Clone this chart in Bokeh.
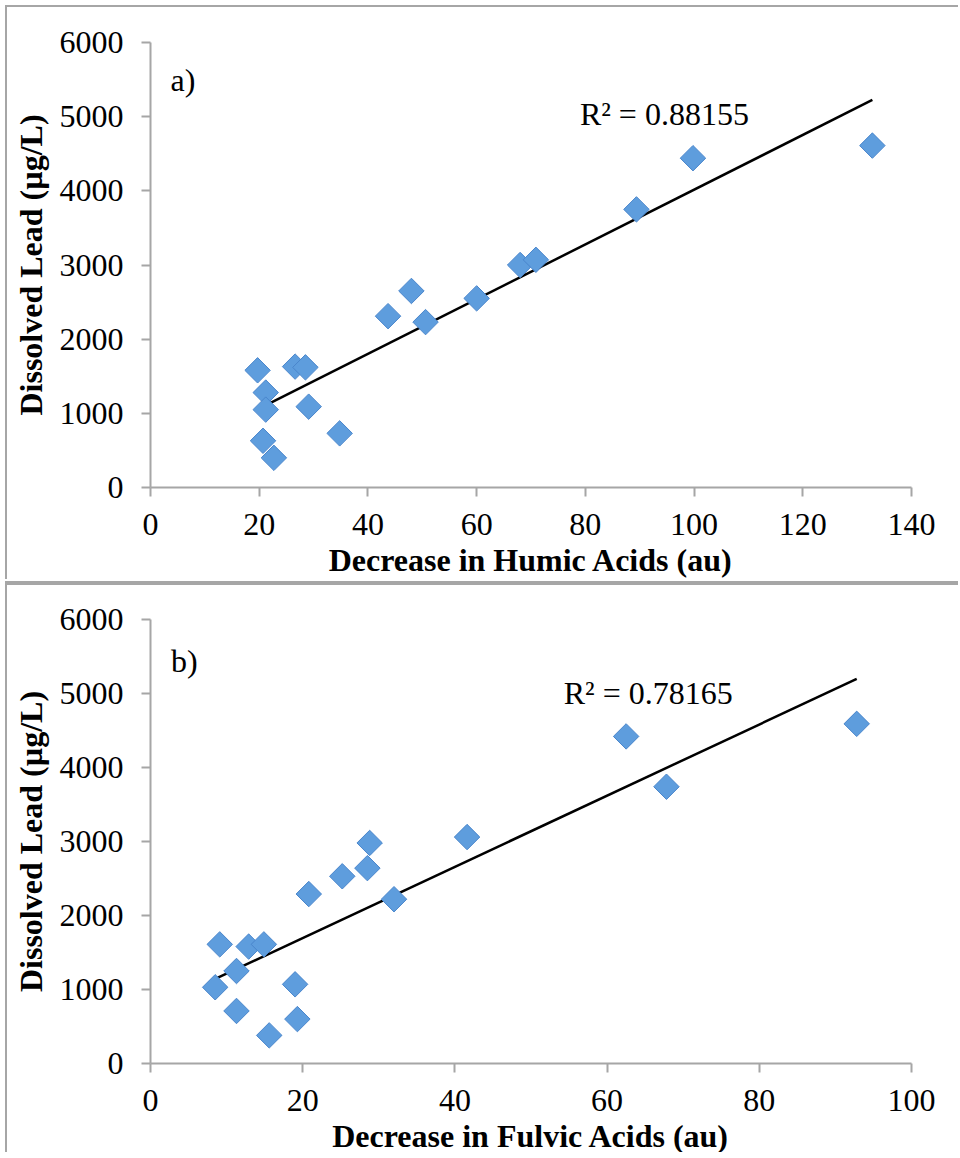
import numpy as np
from bokeh.plotting import figure
from bokeh.layouts import column
from bokeh.models import Label, FixedTicker, Range1d
from bokeh.embed import file_html
from bokeh.resources import INLINE

# ---- data ----
humic_x = [19.7, 21.2, 21.2, 20.7, 22.7, 26.6, 28.5, 29.1, 34.8, 43.7, 48.0, 50.6, 60.0, 68.0, 70.9, 89.4, 99.8, 132.8]
humic_lead = [1580, 1280, 1050, 630, 400, 1630, 1620, 1090, 730, 2310, 2650, 2230, 2550, 3000, 3070, 3750, 4440, 4610]

fulvic_x = [8.5, 9.1, 11.3, 11.3, 12.9, 14.9, 15.6, 19.0, 19.3, 20.8, 25.2, 28.5, 28.8, 32.0, 41.6, 62.5, 67.8, 92.8]
fulvic_lead = [1030, 1610, 1250, 710, 1580, 1610, 380, 1070, 600, 2290, 2530, 2640, 2980, 2220, 3060, 4420, 3740, 4590]

lead_ticks = [0, 1000, 2000, 3000, 4000, 5000, 6000]
humic_ticks = [0, 20, 40, 60, 80, 100, 120, 140]
fulvic_ticks = [0, 20, 40, 60, 80, 100]

humic_r2 = "R² = 0.88155"
fulvic_r2 = "R² = 0.78165"

FONT = "Liberation Serif"
GRAY = "#a6a6a6"
FS = "32px"


def panel(xs, ys, xmax, xticks, xlabel, tag, tag_xy, r2, r2_xy, height, top, bottom, styles, margin):
    p = figure(width=953, height=height,
               x_range=Range1d(0, xmax), y_range=Range1d(0, 6000),
               output_backend="svg", toolbar_location=None,
               min_border_left=143, min_border_right=49,
               min_border_top=top, min_border_bottom=bottom,
               styles=styles, margin=margin)
    p.outline_line_color = None
    p.xgrid.visible = False
    p.ygrid.visible = False
    p.background_fill_color = "white"
    p.border_fill_color = "white"

    p.xaxis.ticker = FixedTicker(ticks=xticks)
    p.yaxis.ticker = FixedTicker(ticks=lead_ticks)
    for ax in (p.xaxis, p.yaxis):
        ax.axis_line_color = GRAY
        ax.axis_line_width = 2
        ax.major_tick_line_color = GRAY
        ax.major_tick_line_width = 2
        ax.major_tick_in = 0
        ax.major_tick_out = 9
        ax.minor_tick_line_color = None
        ax.major_label_text_font = FONT
        ax.major_label_text_font_size = FS
        ax.major_label_text_color = "black"
        ax.axis_label_text_font = FONT
        ax.axis_label_text_font_size = FS
        ax.axis_label_text_font_style = "bold"
        ax.axis_label_text_color = "black"
    p.yaxis.major_label_standoff = 18
    p.xaxis.major_label_standoff = 17
    p.yaxis.axis_label_standoff = 8
    p.xaxis.axis_label_standoff = 4
    p.xaxis.axis_label = xlabel
    p.yaxis.axis_label = "Dissolved Lead (µg/L)"

    coef = np.polyfit(xs, ys, 1)
    xx = np.array([min(xs), max(xs)])
    p.line(xx, np.polyval(coef, xx), line_color="black", line_width=2.5)

    p.scatter(xs, ys, marker="square", size=18, angle=np.pi / 4,
              fill_color="#5e9ddd", line_color="#4a86cc", line_width=1)

    p.add_layout(Label(x=tag_xy[0], y=tag_xy[1], text=tag, text_font=FONT,
                       text_font_size=FS, text_color="black", text_baseline="alphabetic"))
    p.add_layout(Label(x=r2_xy[0], y=r2_xy[1], text=r2, text_font=FONT,
                       text_font_size=FS, text_color="black", text_baseline="alphabetic"))
    return p


p1 = panel(humic_x, humic_lead, 140, humic_ticks, "Decrease in Humic Acids (au)",
           "a)", (3.7, 5488), humic_r2, (79.0, 5039), 574, 35, 94,
           {"border-left": f"2px solid {GRAY}", "border-top": f"2px solid {GRAY}"},
           (5, 0, 2, 5))
p2 = panel(fulvic_x, fulvic_lead, 100, fulvic_ticks, "Decrease in Fulvic Acids (au)",
           "b)", (2.7, 5437), fulvic_r2, (54.3, 5004), 571, 34, 93,
           {"border-left": f"2px solid {GRAY}", "border-top": f"4px solid {GRAY}"},
           (0, 0, 0, 5))

layout = column(p1, p2, spacing=0)
open("out.html", "w").write(file_html(layout, INLINE))
